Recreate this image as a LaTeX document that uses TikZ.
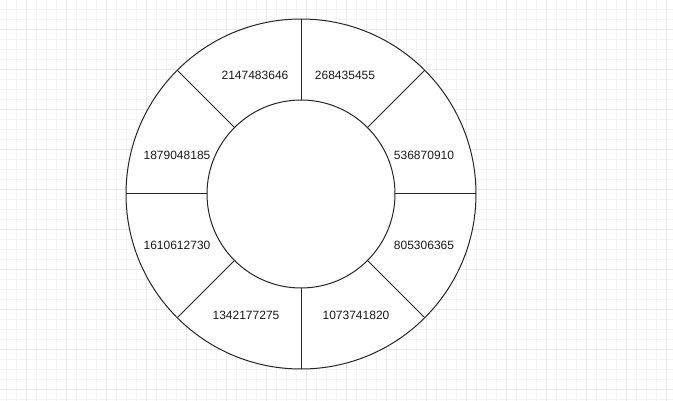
\documentclass[tikz,border=0pt]{standalone}
\usepackage{fontspec}
\setmainfont{Liberation Sans}
\begin{document}
\begin{tikzpicture}[x=1pt,y=-1pt,
  ring/.style={circle,draw=black!85,line width=1pt,fill=white,inner sep=0pt,outer sep=0pt},
  divider/.style={draw=black!85,line width=1pt},
  num/.style={font=\fontsize{12}{14}\selectfont,inner sep=0pt,text=black!90},
  minorgrid/.style={draw=black!4,line width=0.8pt},
  majorgrid/.style={draw=black!9,line width=0.8pt}]
\useasboundingbox (0,0) rectangle (673,401);
\fill[white] (0,0) rectangle (673,401);
% grid
\foreach \x in {6,16,...,673} \draw[minorgrid] (\x,0) -- (\x,401);
\foreach \y in {9,19,...,401} \draw[minorgrid] (0,\y) -- (673,\y);
\foreach \x in {26,66,...,673} \draw[majorgrid] (\x,0) -- (\x,401);
\foreach \y in {29,69,...,401} \draw[majorgrid] (0,\y) -- (673,\y);
% rings
\node[ring,minimum size=350pt] (outer) at (301,194) {};
\node[ring,minimum size=188pt] (inner) at (301,194) {};
\foreach \a in {0,45,...,315}
  \draw[divider] (inner.\a) -- (outer.\a);
% labels
\node[num] (l1) at (255,75) {2147483646};
\node[num] (l2) at (345,75) {268435455};
\node[num] (l3) at (424,155) {536870910};
\node[num] (l4) at (424,245) {805306365};
\node[num] (l5) at (356,315) {1073741820};
\node[num] (l6) at (246,315) {1342177275};
\node[num] (l7) at (177,155) {1879048185};
\node[num] (l8) at (177,245) {1610612730};
\end{tikzpicture}
\end{document}
